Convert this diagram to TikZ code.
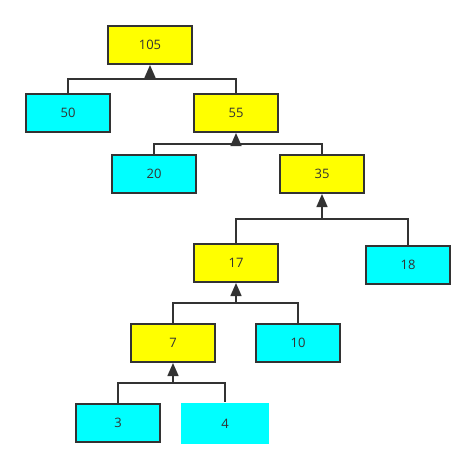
\documentclass[tikz,border=0pt]{standalone}
\usepackage{fontspec}
\setmainfont{Open Sans}
\usetikzlibrary{arrows.meta}

\definecolor{hfyellow}{RGB}{255, 255, 0}
\definecolor{hfcyan}{RGB}{0, 255, 255}
\definecolor{hfline}{RGB}{51, 51, 51}

\begin{document}
\begin{tikzpicture}[
    x=1pt, y=-1pt,
    font=\fontsize{13}{15}\selectfont,
    box/.style={draw=hfline, line width=2pt, minimum width=84pt, minimum height=38pt,
      inner sep=0pt, text=hfline},
    inner/.style={box, fill=hfyellow},
    leaf/.style={box, fill=hfcyan},
    bare/.style={box, draw=none, fill=hfcyan, minimum width=88pt, minimum height=41pt},
    link/.style={draw=hfline, line width=1.5pt},
    up/.style={link, -{Triangle[width=11pt, length=13pt]}},
  ]
    \useasboundingbox (0, 0) rectangle (476, 469);

    % --- sums (yellow) and weights (cyan) ---
    \foreach \nm/\x/\y/\v in {n105/150/45/105, n55/236/113/55, n35/322/174/35,
                              n17/236/263/17, n7/173/343/7}
      \node[inner] (\nm) at (\x, \y) {\v};
    \foreach \nm/\x/\y/\v in {n50/68/113/50, n20/154/174/20, n18/408/265/18,
                              n10/298/343/10, n3/118/423/3}
      \node[leaf] (\nm) at (\x, \y) {\v};
    \node[bare] (n4) at (225, 423.5) {4};

    % --- merge bars: parent/left/right/bar height ---
    \foreach \p/\l/\r/\h in {n105/n50/n55/79, n55/n20/n35/144, n35/n17/n18/219,
                             n17/n7/n10/303, n7/n3/n4/383} {
      \coordinate (j\p) at (\p.south |- 0, \h);
      \draw[link] (\l.north) |- (j\p) -| (\r.north);
      \draw[up] (j\p) -- (\p.south);
    }
  \end{tikzpicture}
\end{document}
